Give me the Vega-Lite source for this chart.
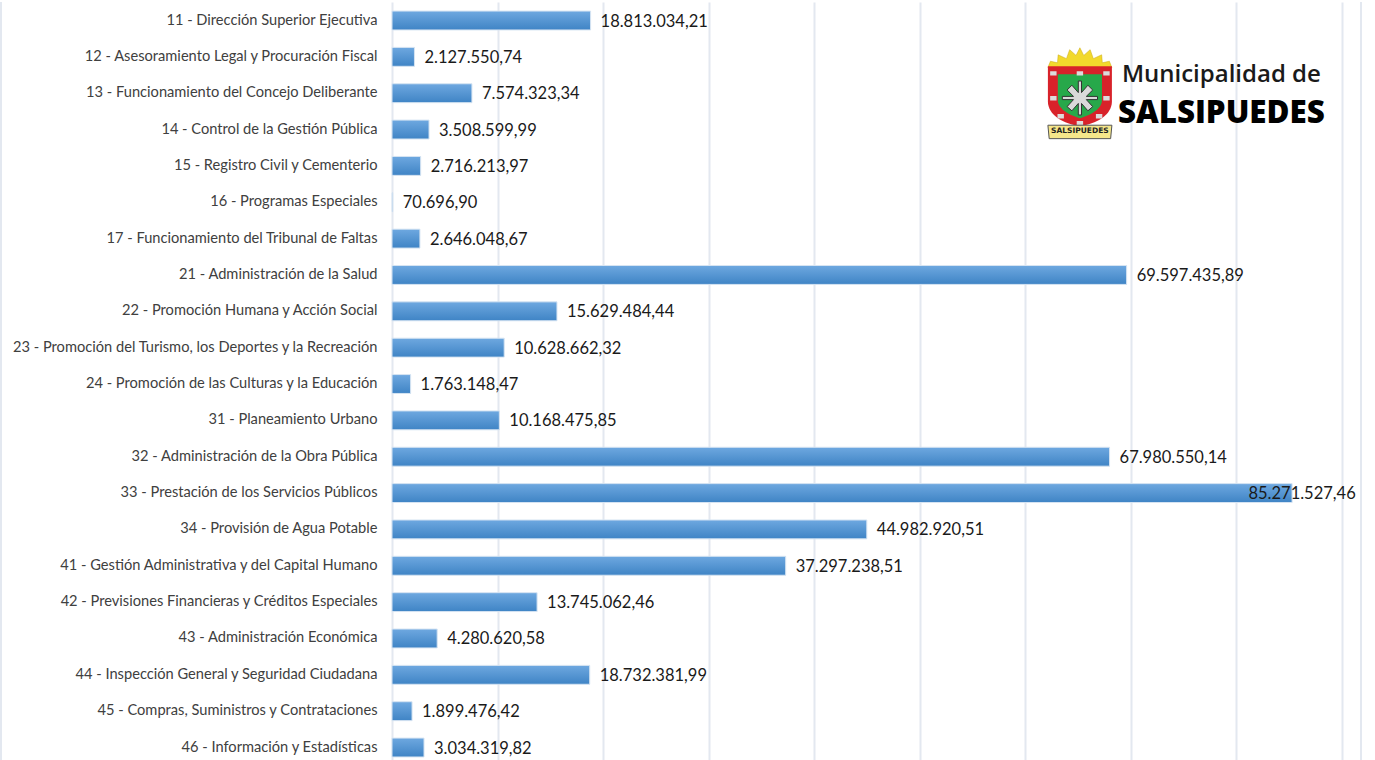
{
"$schema":"https://vega.github.io/schema/vega-lite/v6.json",
"width":950,"height":758,
"autosize":{"type":"none"},
"padding":{"left":392,"top":2,"right":33,"bottom":0},
"background":"white",
"config":{"view":{"stroke":null}},
"datasets":{
"rows":[
{"programa":"11 - Dirección Superior Ejecutiva","valor":18813034.21,"etiqueta":"18.813.034,21"},
{"programa":"12 - Asesoramiento Legal y Procuración Fiscal","valor":2127550.74,"etiqueta":"2.127.550,74"},
{"programa":"13 - Funcionamiento del Concejo Deliberante","valor":7574323.34,"etiqueta":"7.574.323,34"},
{"programa":"14 - Control de la Gestión Pública","valor":3508599.99,"etiqueta":"3.508.599,99"},
{"programa":"15 - Registro Civil y Cementerio","valor":2716213.97,"etiqueta":"2.716.213,97"},
{"programa":"16 - Programas Especiales","valor":70696.90,"etiqueta":"70.696,90"},
{"programa":"17 - Funcionamiento del Tribunal de Faltas","valor":2646048.67,"etiqueta":"2.646.048,67"},
{"programa":"21 - Administración de la Salud","valor":69597435.89,"etiqueta":"69.597.435,89"},
{"programa":"22 - Promoción Humana y Acción Social","valor":15629484.44,"etiqueta":"15.629.484,44"},
{"programa":"23 - Promoción del Turismo, los Deportes y la Recreación","valor":10628662.32,"etiqueta":"10.628.662,32"},
{"programa":"24 - Promoción de las Culturas y la Educación","valor":1763148.47,"etiqueta":"1.763.148,47"},
{"programa":"31 - Planeamiento Urbano","valor":10168475.85,"etiqueta":"10.168.475,85"},
{"programa":"32 - Administración de la Obra Pública","valor":67980550.14,"etiqueta":"67.980.550,14"},
{"programa":"33 - Prestación de los Servicios Públicos","valor":85271527.46,"etiqueta":"85.271.527,46"},
{"programa":"34 - Provisión de Agua Potable","valor":44982920.51,"etiqueta":"44.982.920,51"},
{"programa":"41 - Gestión Administrativa y del Capital Humano","valor":37297238.51,"etiqueta":"37.297.238,51"},
{"programa":"42 - Previsiones Financieras y Créditos Especiales","valor":13745062.46,"etiqueta":"13.745.062,46"},
{"programa":"43 - Administración Económica","valor":4280620.58,"etiqueta":"4.280.620,58"},
{"programa":"44 - Inspección General y Seguridad Ciudadana","valor":18732381.99,"etiqueta":"18.732.381,99"},
{"programa":"45 - Compras, Suministros y Contrataciones","valor":1899476.42,"etiqueta":"1.899.476,42"},
{"programa":"46 - Información y Estadísticas","valor":3034319.82,"etiqueta":"3.034.319,82"}
],
"logo":[{"programa":"13 - Funcionamiento del Concejo Deliberante","valor":65170000}],
"borde":[{"valor":-37040000},{"valor":91800000}]
},
"encoding":{
"y":{"field":"programa","type":"nominal","sort":null,"title":null,
 "scale":{"domain":["11 - Dirección Superior Ejecutiva","12 - Asesoramiento Legal y Procuración Fiscal","13 - Funcionamiento del Concejo Deliberante","14 - Control de la Gestión Pública","15 - Registro Civil y Cementerio","16 - Programas Especiales","17 - Funcionamiento del Tribunal de Faltas","21 - Administración de la Salud","22 - Promoción Humana y Acción Social","23 - Promoción del Turismo, los Deportes y la Recreación","24 - Promoción de las Culturas y la Educación","31 - Planeamiento Urbano","32 - Administración de la Obra Pública","33 - Prestación de los Servicios Públicos","34 - Provisión de Agua Potable","41 - Gestión Administrativa y del Capital Humano","42 - Previsiones Financieras y Créditos Especiales","43 - Administración Económica","44 - Inspección General y Seguridad Ciudadana","45 - Compras, Suministros y Contrataciones","46 - Información y Estadísticas"],"paddingInner":0.48,"paddingOuter":0.166,"align":0.75},
 "axis":{"domain":false,"ticks":false,"grid":false,"labelPadding":15,"labelFont":"Lato","labelFontSize":14.65,"labelColor":"#404040","labelLimit":400,"labelFontWeight":"normal"}},
"x":{"field":"valor","type":"quantitative","title":null,
 "scale":{"domain":[0,90000000],"nice":false,"zero":false},
 "axis":{"domain":false,"ticks":false,"labels":false,"grid":true,"gridColor":"#e3e8f0","gridWidth":2,"values":[0,10000000,20000000,30000000,40000000,50000000,60000000,70000000,80000000,90000000]}}
},
"layer":[
{"data":{"name":"borde"},"mark":{"type":"rule","stroke":"#e3e8f0","strokeWidth":2,"clip":false},"encoding":{"y":{"value":0},"y2":{"value":758}}},
{"data":{"name":"rows"},"mark":{"type":"bar","stroke":"#d6e4f2","strokeWidth":1,"fill":{"gradient":"linear","x1":0,"y1":0,"x2":0,"y2":1,"stops":[{"offset":0,"color":"#6ea8e0"},{"offset":1,"color":"#3f84c5"}]}}},
{"data":{"name":"rows"},"transform":[{"filter":"datum.valor < 80000000"}],"mark":{"type":"text","align":"left","baseline":"middle","dx":10,"dy":1,"font":"Lato","fontSize":16.5,"fill":"#1a1a1a"},"encoding":{"text":{"field":"etiqueta"}}},
{"data":{"name":"rows"},"transform":[{"filter":"datum.valor >= 80000000"}],"mark":{"type":"text","align":"center","baseline":"middle","dx":10,"dy":1,"font":"Lato","fontSize":16.5,"fill":"#1a1a1a","clip":false},"encoding":{"text":{"field":"etiqueta"}}},
{"data":{"name":"logo"},"mark":{"type":"point","filled":true,"opacity":1,"size":4096,"fill":"#f2d92c","stroke":"#c9a912","strokeWidth":0.5,"shape":"M-1 -0.8 L-0.92 -1 L-0.7 -0.95 L-0.68 -1.2 L-0.42 -1.08 L-0.32 -1.36 L-0.12 -1.18 L0 -1.42 L0.12 -1.18 L0.32 -1.36 L0.42 -1.08 L0.68 -1.2 L0.7 -0.95 L0.92 -1 L1 -0.8 Z"}},
{"data":{"name":"logo"},"mark":{"type":"point","filled":true,"opacity":1,"size":4096,"fill":"#d8222a","shape":"M-1 -0.84 L1 -0.84 L1 0.25 C1 0.7 0.5 0.95 0 1.03 C-0.5 0.95 -1 0.7 -1 0.25 Z"}},
{"data":{"name":"logo"},"mark":{"type":"point","filled":true,"opacity":1,"size":4096,"fill":"#27a84a","shape":"M-0.69 -0.59 L0.69 -0.59 L0.69 0.22 C0.69 0.5 0.3 0.7 0 0.78 C-0.3 0.7 -0.69 0.5 -0.69 0.22 Z"}},
{"data":{"name":"logo"},"mark":{"type":"point","filled":true,"opacity":1,"size":4096,"fill":"#d9d9d9","stroke":"#333333","strokeWidth":1,"shape":"M-0.05 -0.38 L0.05 -0.38 L0.05 -0.02 L0.25 -0.25 L0.4 -0.1 L0.2 0.1 L0.55 0.1 L0.55 0.2 L0.2 0.2 L0.4 0.42 L0.25 0.55 L0.05 0.32 L0.05 0.68 L-0.05 0.68 L-0.05 0.32 L-0.25 0.55 L-0.4 0.42 L-0.2 0.2 L-0.55 0.2 L-0.55 0.1 L-0.2 0.1 L-0.4 -0.1 L-0.25 -0.25 L-0.05 -0.02 Z"}},
{"data":{"name":"logo"},"mark":{"type":"point","filled":true,"opacity":1,"size":4096,"fill":"#dcdcdc","shape":"M-0.93 -0.69 h0.2 v0.14 h-0.2 Z M-0.1 -0.69 h0.2 v0.14 h-0.2 Z M0.73 -0.69 h0.2 v0.14 h-0.2 Z M-0.93 0.09 h0.2 v0.14 h-0.2 Z M0.73 0.09 h0.2 v0.14 h-0.2 Z M-0.7 0.65 h0.2 v0.14 h-0.2 Z M0.5 0.65 h0.2 v0.14 h-0.2 Z M-0.1 0.87 h0.2 v0.14 h-0.2 Z"}},
{"data":{"name":"logo"},"mark":{"type":"point","filled":true,"opacity":1,"size":4096,"fill":"#f5e68a","stroke":"#555555","strokeWidth":1,"shape":"M-1 1 L1 1 L0.96 1.42 L-0.96 1.42 Z"}},
{"data":{"name":"logo"},"mark":{"type":"text","align":"center","baseline":"middle","dy":38,"font":"DejaVu Sans","fontSize":7.5,"fontWeight":"bold","fill":"#222222","text":"SALSIPUEDES"}},
{"data":{"name":"logo"},"mark":{"type":"text","align":"left","baseline":"middle","dx":42,"dy":-18,"font":"Open Sans","fontSize":24,"fontWeight":600,"fill":"#1a1a1a","text":"Municipalidad de"}},
{"data":{"name":"logo"},"mark":{"type":"text","align":"left","baseline":"middle","dx":38,"dy":21,"font":"Open Sans","fontSize":31.3,"fontWeight":800,"fill":"#000000","text":"SALSIPUEDES"}}
]
}
